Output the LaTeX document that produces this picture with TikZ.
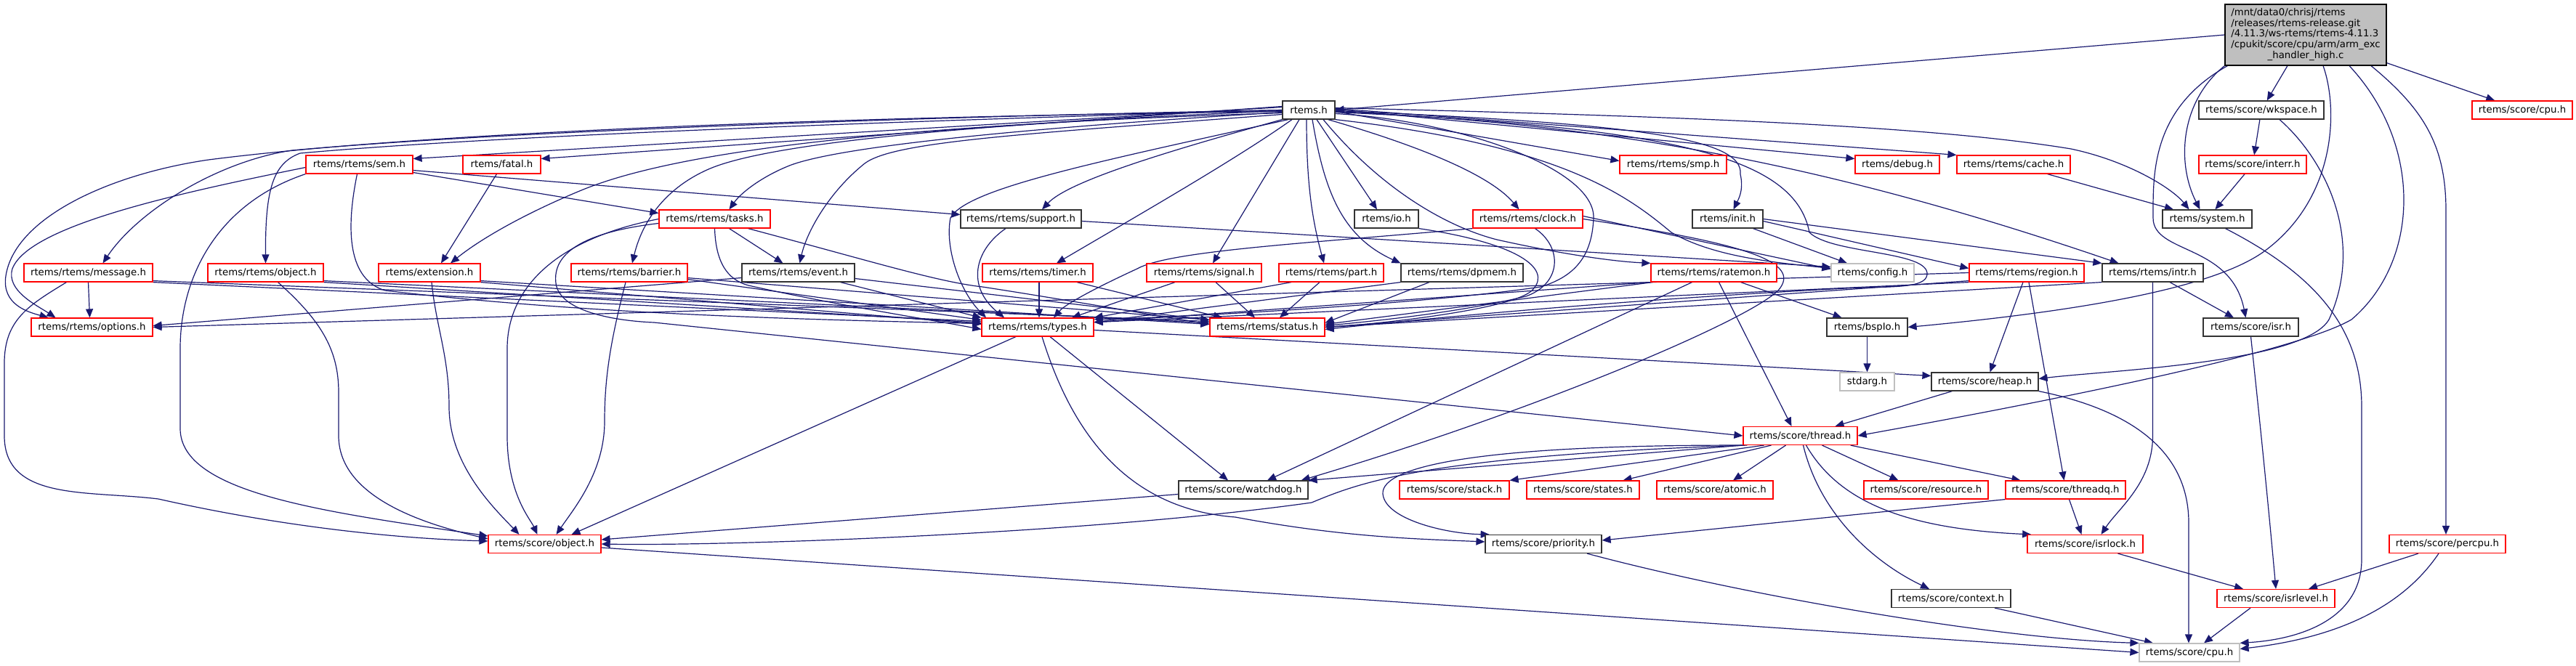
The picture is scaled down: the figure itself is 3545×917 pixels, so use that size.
\documentclass[tikz,border=0pt]{standalone}
\usepackage{fontspec}
\setmainfont{DejaVu Sans}
\usetikzlibrary{arrows.meta,backgrounds}
\definecolor{edgec}{HTML}{191970}
\definecolor{redb}{HTML}{FF0000}
\definecolor{grayb}{HTML}{BFBFBF}
\definecolor{mainf}{HTML}{BFBFBF}
\definecolor{darkb}{HTML}{333333}
\newcommand\nodefont{\fontsize{13.3pt}{14.8pt}\selectfont}
\tikzset{
 hbox/.style={draw, rectangle, minimum height=25pt, inner sep=0pt, fill=white, line width=1.2pt, font=\nodefont, text=black},
 rbox/.style={hbox, draw=redb},
 kbox/.style={hbox, draw=darkb},
 gbox/.style={hbox, draw=grayb},
 dep/.style={color=edgec, line width=1.2pt, -{Triangle[length=12pt,width=10pt]}},
}
\begin{document}
\begin{tikzpicture}[x=1pt,y=-1pt]
\useasboundingbox (0,0) rectangle (3545,917);
% row 0
\node[kbox, draw=black, fill=mainf, minimum width=222pt, minimum height=84pt] (main) at (3173,48) {\begin{tabular}{@{}l@{}}/mnt/data0/chrisj/rtems\\/releases/rtems-release.git\\/4.11.3/ws-rtems/rtems-4.11.3\\/cpukit/score/cpu/arm/arm\_exc\\\multicolumn{1}{@{}c@{}}{\_handler\_high.c}\end{tabular}};
% row 1
\node[kbox, minimum width=72pt] (rtems) at (1801,151.5) {rtems.h};
\node[kbox, minimum width=172pt] (wkspace) at (3112,151.5) {rtems/score/wkspace.h};
\node[rbox, minimum width=138pt] (scpu) at (3471,151.5) {rtems/score/cpu.h};
% row 2
\node[rbox, minimum width=147pt] (sem) at (494.5,226.5) {rtems/rtems/sem.h};
\node[rbox, minimum width=107pt] (fatal) at (690.5,226.5) {rtems/fatal.h};
\node[rbox, minimum width=147pt] (smp) at (2302.5,226.5) {rtems/rtems/smp.h};
\node[rbox, minimum width=116pt] (debug) at (2611,226.5) {rtems/debug.h};
\node[rbox, minimum width=156pt] (cache) at (2771,226.5) {rtems/rtems/cache.h};
\node[rbox, minimum width=148pt] (interr) at (3100,226.5) {rtems/score/interr.h};
% row 3
\node[rbox, minimum width=153pt] (tasks) at (983.5,301.5) {rtems/rtems/tasks.h};
\node[kbox, minimum width=166pt] (support) at (1405,301.5) {rtems/rtems/support.h};
\node[kbox, minimum width=88pt] (io) at (1908,301.5) {rtems/io.h};
\node[rbox, minimum width=151pt] (clock) at (2102.5,301.5) {rtems/rtems/clock.h};
\node[kbox, minimum width=97pt] (init) at (2377.5,301.5) {rtems/init.h};
\node[kbox, minimum width=123pt] (system) at (3037.5,301.5) {rtems/system.h};
% row 4
\node[rbox, minimum width=177pt] (message) at (121.5,375.5) {rtems/rtems/message.h};
\node[rbox, minimum width=159pt] (robject) at (365.5,375.5) {rtems/rtems/object.h};
\node[rbox, minimum width=140pt] (extension) at (591,375.5) {rtems/extension.h};
\node[rbox, minimum width=160pt] (barrier) at (866,375.5) {rtems/rtems/barrier.h};
\node[kbox, minimum width=155pt] (event) at (1098.5,375.5) {rtems/rtems/event.h};
\node[rbox, minimum width=152pt] (timer) at (1428,375.5) {rtems/rtems/timer.h};
\node[rbox, minimum width=158pt] (signal) at (1657,375.5) {rtems/rtems/signal.h};
\node[rbox, minimum width=144pt] (part) at (1832,375.5) {rtems/rtems/part.h};
\node[kbox, minimum width=168pt] (dpmem) at (2012,375.5) {rtems/rtems/dpmem.h};
\node[rbox, minimum width=173pt] (ratemon) at (2358.5,375.5) {rtems/rtems/ratemon.h};
\node[gbox, minimum width=114pt] (config) at (2577,375.5) {rtems/config.h};
\node[rbox, minimum width=158pt] (region) at (2789,375.5) {rtems/rtems/region.h};
\node[kbox, minimum width=139pt] (intr) at (2962.5,375.5) {rtems/rtems/intr.h};
% row 5
\node[rbox, minimum width=167pt] (options) at (126.5,450.5) {rtems/rtems/options.h};
\node[rbox, minimum width=154pt] (types) at (1428,450.5) {rtems/rtems/types.h};
\node[rbox, minimum width=158pt] (status) at (1744,450.5) {rtems/rtems/status.h};
\node[kbox, minimum width=111pt] (bspio) at (2569.5,450.5) {rtems/bspIo.h};
\node[kbox, minimum width=131pt] (isr) at (3097.5,450.5) {rtems/score/isr.h};
% row 6
\node[gbox, minimum width=75pt] (stdarg) at (2569.5,525.5) {stdarg.h};
\node[kbox, minimum width=147pt] (heap) at (2731.5,525.5) {rtems/score/heap.h};
% row 7
\node[rbox, minimum width=157pt] (thread) at (2477.5,600) {rtems/score/thread.h};
% row 8
\node[kbox, minimum width=178pt] (watchdog) at (1711,674.5) {rtems/score/watchdog.h};
\node[rbox, minimum width=151pt] (stack) at (2001.5,674.5) {rtems/score/stack.h};
\node[rbox, minimum width=155pt] (states) at (2178.5,674.5) {rtems/score/states.h};
\node[rbox, minimum width=160pt] (atomic) at (2360,674.5) {rtems/score/atomic.h};
\node[rbox, minimum width=171pt] (resource) at (2650.5,674.5) {rtems/score/resource.h};
\node[rbox, minimum width=165pt] (threadq) at (2842.5,674.5) {rtems/score/threadq.h};
% row 9
\node[rbox, minimum width=155pt] (sobject) at (749.5,749) {rtems/score/object.h};
\node[kbox, minimum width=160pt] (priority) at (2124,749) {rtems/score/priority.h};
\node[rbox, minimum width=159pt] (isrlock) at (2869.5,749) {rtems/score/isrlock.h};
\node[rbox, minimum width=160pt] (percpu) at (3368,749) {rtems/score/percpu.h};
% row 10
\node[kbox, minimum width=164pt] (context) at (2685,824) {rtems/score/context.h};
\node[rbox, minimum width=162pt] (isrlevel) at (3132,824) {rtems/score/isrlevel.h};
% row 11
\node[gbox, minimum width=138pt] (cpu) at (3013,898.5) {rtems/score/cpu.h};

\begin{scope}[on background layer]
\fill[white] (0,0) rectangle (3545,917);
% main
\draw[dep] (main.west) -- (rtems.east);
\draw[dep] (main) -- (wkspace);
\draw[dep] (main) -- (scpu);
\draw[dep] (main.south west) .. controls (3000,140) and (2995,225) .. ([xshift=-10pt]system.north);
\draw[dep] ([xshift=4pt]main.south west) .. controls (2960,150) and (2963,240) .. (2963,300) .. controls (2963,350) and (3070,335) .. ([xshift=-7pt]isr.north);
\draw[dep] ([xshift=24pt]main.south) .. controls (3218,150) and (3215,270) .. (3120,343) .. controls (3060,390) and (2900,425) .. (bspio.east);
\draw[dep] ([xshift=60pt]main.south) .. controls (3335,200) and (3330,360) .. (3236,440) .. controls (3150,490) and (2750,565) .. (thread.east);
\draw[dep] ([xshift=90pt]main.south) .. controls (3335,150) and (3366,200) .. (3366,290) -- ([xshift=-2pt]percpu.north);
% wkspace, interr, cache, system
\draw[dep] (wkspace) -- (interr);
\draw[dep] ([xshift=25pt]wkspace.south) .. controls (3200,220) and (3255,330) .. (3205,440) .. controls (3170,500) and (2900,510) .. ([yshift=4pt]heap.east);
\draw[dep] (interr) -- (system);
\draw[dep] (cache) -- (system);
\draw[dep] ([xshift=25pt]system.south) .. controls (3170,370) and (3250,440) .. (3250,560) -- (3250,770) .. controls (3250,850) and (3170,880) .. (cpu.north east);
% isr, intr
\draw[dep] (isr.south) .. controls (3112,600) and (3122,700) .. (isrlevel.north);
\draw[dep] (intr) -- (isr);
\draw[dep] (intr.south) -- (2962.5,600) .. controls (2962.5,665) and (2915,700) .. ([xshift=22pt]isrlock.north);
\draw[dep] (intr.south west) -- (status.east);
% region
\draw[dep] ([xshift=-5pt]region.south) -- ([xshift=7pt]heap.north);
\draw[dep] ([xshift=3pt]region.south) -- ([xshift=-2pt]threadq.north);
\draw[dep] (region.west) -- (options.east);
\draw[dep] (region.south west) -- (types.5);
\draw[dep] ([yshift=2pt]region.south west) -- (status.east);
% heap
\draw[dep] ([xshift=-45pt]heap.south) -- ([xshift=48pt]thread.north);
\draw[dep] (heap.south east) .. controls (2960,570) and (3012,640) .. (3012,720) -- ([xshift=-1pt]cpu.north);
% types
\draw[dep] ([yshift=-4pt]types.east) -- ([yshift=8pt]heap.west);
\draw[dep] ([xshift=17pt]types.south) -- ([xshift=-21pt]watchdog.north);
\draw[dep] ([xshift=6pt]types.south) .. controls (1470,580) and (1540,700) .. (1700,712) .. controls (1850,740) and (1950,742) .. ([yshift=3pt]priority.west);
\draw[dep] ([xshift=-30pt]types.south) -- ([xshift=37pt]sobject.north);
\draw[dep] ([yshift=-6pt]watchdog.west) -- ([yshift=6pt]sobject.east);
% thread
\draw[dep] (thread.south west) -- (watchdog.north east);
\draw[dep] ([xshift=3pt]thread.south west) .. controls (1960,628) and (1870,665) .. (1805,692) .. controls (1500,735) and (1000,752) .. (sobject.east);
\draw[dep] ([xshift=6pt]thread.south west) .. controls (2050,612) and (1900,640) .. (1903,680) .. controls (1906,715) and (1990,735) .. (priority.170);
\draw[dep] ([xshift=-50pt]thread.south) -- (stack.north east);
\draw[dep] ([xshift=-40pt]thread.south) -- ([xshift=55pt]states.north);
\draw[dep] ([xshift=-20pt]thread.south) -- ([xshift=25pt]atomic.north);
\draw[dep] ([xshift=30pt]thread.south) -- ([xshift=-38pt]resource.north);
\draw[dep] ([xshift=-10pt]thread.south east) -- ([xshift=-62pt]threadq.north);
\draw[dep] ([xshift=8pt]thread.south) .. controls (2530,690) and (2620,728) .. (isrlock.170);
\draw[dep] ([xshift=4pt]thread.south) .. controls (2505,710) and (2580,775) .. ([xshift=-30pt]context.north);
% lower score
\draw[dep] (threadq.south west) -- ([yshift=5pt]priority.east);
\draw[dep] ([xshift=5pt]threadq.south) -- ([xshift=-5pt]isrlock.north);
\draw[dep] ([xshift=45pt]isrlock.south) -- ([xshift=-45pt]isrlevel.north);
\draw[dep] ([xshift=-40pt]percpu.south) -- ([xshift=45pt]isrlevel.north);
\draw[dep] ([xshift=-12pt]percpu.south) .. controls (3300,845) and (3200,880) .. ([yshift=5pt]cpu.east);
\draw[dep] ([xshift=-35pt]isrlevel.south) -- ([xshift=20pt]cpu.north);
\draw[dep] ([xshift=60pt]context.south) -- ([xshift=-50pt]cpu.north);
\draw[dep] ([xshift=60pt]priority.south) .. controls (2400,820) and (2750,880) .. (cpu.north west);
\draw[dep] ([yshift=-5pt]sobject.east) -- (cpu.west);
% ratemon
\draw[dep] ([xshift=-30pt]ratemon.south) -- ([xshift=33pt]watchdog.north);
\draw[dep] ([xshift=7pt]ratemon.south) -- ([xshift=-12pt]thread.north);
\draw[dep] ([xshift=37pt]ratemon.south) -- ([xshift=-35pt]bspio.north);
\draw[dep] (ratemon.south west) -- (types.5);
\draw[dep] ([xshift=3pt]ratemon.south west) -- ([yshift=4pt]status.east);
% clock
\draw[dep] (clock.east) .. controls (2400,335) and (2482,360) .. (2447,400) .. controls (2400,445) and (2100,570) .. ([xshift=-10pt]watchdog.north east);
\draw[dep] ([yshift=4pt]clock.east) -- ([yshift=5pt]config.west);
\draw[dep] (clock.south west) .. controls (1800,335) and (1610,345) .. (1565,370) .. controls (1500,400) and (1465,420) .. ([xshift=22pt]types.north);
\draw[dep] ([xshift=10pt]clock.south) .. controls (2150,340) and (2150,390) .. (2100,408) .. controls (2000,432) and (1880,443) .. ([yshift=2pt]status.east);
% io, dpmem, part, signal, timer, support
\draw[dep] (io.south east) .. controls (2090,335) and (2135,370) .. (2110,398) .. controls (2090,425) and (1900,446) .. (status.east);
\draw[dep] (dpmem.south west) -- (types.5);
\draw[dep] ([xshift=-45pt]dpmem.south) -- ([yshift=6pt]status.east);
\draw[dep] ([xshift=-55pt]part.south) -- (types.north east);
\draw[dep] ([xshift=-16pt]part.south) -- ([xshift=17pt]status.north);
\draw[dep] ([xshift=-40pt]signal.south) -- ([xshift=47pt]types.north);
\draw[dep] ([xshift=16pt]signal.south) -- ([xshift=-17pt]status.north);
\draw[dep] ([xshift=2pt]timer.south) -- ([xshift=2pt]types.north);
\draw[dep] ([xshift=54pt]timer.south) -- ([xshift=-62pt]status.north);
\draw[dep] ([xshift=-21pt]support.south) .. controls (1340,345) and (1330,395) .. ([xshift=-46pt]types.north);
\draw[dep] ([yshift=-3pt]support.east) -- ([yshift=8pt]config.west);
% rtems.h
\draw[dep] ([yshift=4pt]rtems.west) -- ([yshift=8pt]sem.east);
\draw[dep] ([yshift=5pt]rtems.west) -- ([yshift=8pt]fatal.east);
\draw[dep] (rtems.west) .. controls (1300,160) and (700,180) .. (402,207) .. controls (300,222) and (190,290) .. ([xshift=20pt]message.north);
\draw[dep] (rtems.west) .. controls (1300,165) and (700,185) .. (413,211) .. controls (375,225) and (365,262) .. (robject.north);
\draw[dep] ([yshift=-2pt]rtems.west) .. controls (1200,160) and (600,180) .. (287,220) .. controls (150,240) and (20,300) .. (8,380) .. controls (2,420) and (40,430) .. ([xshift=-60pt]options.north);
\draw[dep] ([yshift=-4pt]rtems.west) .. controls (1300,170) and (950,200) .. (800,262) .. controls (720,295) and (660,330) .. ([xshift=29pt]extension.north);
\draw[dep] ([yshift=-1pt]rtems.west) .. controls (1300,172) and (1050,200) .. (975,233) .. controls (920,257) and (885,300) .. ([xshift=4pt]barrier.north);
\draw[dep] ([yshift=-3pt]rtems.west) .. controls (1350,180) and (1150,205) .. (1089,227) .. controls (1050,242) and (1020,265) .. ([xshift=20pt]tasks.north);
\draw[dep] ([yshift=-6pt]rtems.west) .. controls (1400,185) and (1230,195) .. (1190,225) .. controls (1140,265) and (1110,320) .. ([xshift=2pt]event.north);
\draw[dep] (rtems.south west) .. controls (1600,210) and (1470,250) .. ([xshift=29pt]support.north);
\draw[dep] ([xshift=-28pt]rtems.south) .. controls (1500,225) and (1330,260) .. (1308,300) .. controls (1300,340) and (1320,400) .. ([xshift=-71pt]types.north);
\draw[dep] ([xshift=-23pt]rtems.south) .. controls (1700,220) and (1560,300) .. ([xshift=26pt]timer.north);
\draw[dep] ([xshift=-13pt]rtems.south) -- ([xshift=12pt]signal.north);
\draw[dep] ([xshift=-3pt]rtems.south) .. controls (1798,250) and (1805,300) .. ([xshift=-10pt]part.north);
\draw[dep] ([xshift=5pt]rtems.south) .. controls (1822,260) and (1845,325) .. (dpmem.north west);
\draw[dep] ([xshift=11pt]rtems.south) -- ([xshift=-13pt]io.north);
\draw[dep] ([xshift=20pt]rtems.south) .. controls (1900,260) and (1990,312) .. (2060,330) .. controls (2150,350) and (2220,360) .. (ratemon.north west);
\draw[dep] ([xshift=-10pt]rtems.south east) .. controls (1950,200) and (2050,240) .. ([xshift=-12pt]clock.north);
\draw[dep] ([yshift=-2pt]rtems.east) -- ([yshift=5pt]smp.west);
\draw[dep] ([yshift=1pt]rtems.east) -- ([yshift=8pt]debug.west);
\draw[dep] ([yshift=2pt]rtems.east) -- (cache.north west);
\draw[dep] ([yshift=3pt]rtems.east) .. controls (2300,160) and (2650,172) .. (2850,205) .. controls (2930,222) and (2990,260) .. ([xshift=-25pt]system.north);
\draw[dep] ([yshift=-1pt]rtems.east) .. controls (2250,170) and (2400,190) .. (2395,240) .. controls (2400,262) and (2392,275) .. ([xshift=8pt]init.north);
\draw[dep] (rtems.south east) .. controls (2150,200) and (2240,270) .. (2300,320) .. controls (2360,355) and (2450,362) .. ([yshift=6pt]config.west);
\draw[dep] ([yshift=-2pt]rtems.east) .. controls (2200,170) and (2500,220) .. ([xshift=-47pt]intr.north);
\draw[dep] ([yshift=-3pt]rtems.east) .. controls (2300,175) and (2470,215) .. (2490,320) .. controls (2520,350) and (2655,345) .. (2652,378) .. controls (2650,398) and (2600,394) .. (2540,397) .. controls (2200,415) and (1950,440) .. ([yshift=-3pt]status.east);
\draw[dep] ([yshift=-5pt]rtems.east) .. controls (2000,165) and (2195,230) .. (2193,300) .. controls (2191,350) and (2170,380) .. (2120,395) .. controls (1950,420) and (1600,438) .. (types.8);
% sem
\draw[dep] ([yshift=-8pt]sem.east) -- ([yshift=6pt]support.west);
\draw[dep] ([yshift=-11pt]sem.east) -- ([yshift=8pt]tasks.west);
\draw[dep] ([yshift=-4pt]sem.west) .. controls (250,265) and (40,310) .. (17,370) .. controls (8,400) and (50,420) .. ([xshift=-50pt]options.north);
\draw[dep] (sem.south west) .. controls (300,280) and (248,380) .. (248,480) -- (248,590) .. controls (248,680) and (450,705) .. ([yshift=11pt]sobject.west);
\draw[dep] ([xshift=-3pt]sem.south) .. controls (475,320) and (480,385) .. (530,400) .. controls (800,432) and (1100,440) .. ([yshift=5pt]types.west);
% fatal
\draw[dep] ([xshift=-7pt]fatal.south) -- ([xshift=16pt]extension.north);
% message
\draw[dep] (message.south) -- ([xshift=-3pt]options.north);
\draw[dep] ([xshift=-30pt]message.south) .. controls (40,420) and (6,440) .. (6,500) -- (6,600) .. controls (6,690) and (120,675) .. (218,687) .. controls (400,728) and (560,742) .. ([yshift=4pt]sobject.west);
\draw[dep] (message.south east) -- ([yshift=8pt]types.west);
\draw[dep] ([yshift=2pt]message.south east) -- ([yshift=8pt]status.west);
% robject
\draw[dep] (robject.south east) -- ([yshift=6pt]types.west);
\draw[dep] ([yshift=2pt]robject.south east) -- ([yshift=6pt]status.west);
\draw[dep] ([xshift=17pt]robject.south) .. controls (440,440) and (466,480) .. (466,540) -- (466,600) .. controls (466,690) and (600,725) .. ([yshift=7pt]sobject.west);
% extension
\draw[dep] (extension.south east) -- ([yshift=4pt]types.west);
\draw[dep] ([yshift=2pt]extension.south east) -- ([yshift=4pt]status.west);
\draw[dep] ([xshift=3pt]extension.south) .. controls (600,450) and (618,490) .. (618,560) .. controls (618,640) and (680,700) .. ([xshift=-35pt]sobject.north);
% barrier
\draw[dep] ([yshift=4pt]barrier.south east) -- ([yshift=10pt]types.west);
\draw[dep] ([yshift=6pt]barrier.south east) -- ([yshift=10pt]status.west);
\draw[dep] ([xshift=-5pt]barrier.south) .. controls (840,470) and (832,520) .. (832,580) .. controls (832,650) and (790,700) .. ([xshift=16pt]sobject.north);
% tasks
\draw[dep] ([xshift=20pt]tasks.south) -- ([xshift=-21pt]event.north);
\draw[dep] ([xshift=46pt]tasks.south) .. controls (1200,360) and (1290,388) .. (1352,395) .. controls (1450,410) and (1600,436) .. ([yshift=4pt]status.west);
\draw[dep] (tasks.south) .. controls (985,360) and (1000,385) .. (1030,393) .. controls (1150,420) and (1280,440) .. ([yshift=-3pt]types.west);
\draw[dep] (tasks.west) .. controls (760,330) and (698,400) .. (698,480) -- (698,600) .. controls (698,680) and (730,715) .. ([xshift=-10pt]sobject.north);
\draw[dep] ([yshift=-6pt]tasks.west) .. controls (800,320) and (760,350) .. (765,390) .. controls (770,430) and (850,442) .. (900,444) -- (thread.west);
% event
\draw[dep] ([xshift=-20pt]event.south east) -- (types.north west);
\draw[dep] ([yshift=-8pt]event.east) -- ([yshift=10pt]status.west);
\draw[dep] ([yshift=-7pt]event.west) -- ([yshift=2pt]options.east);
% init
\draw[dep] ([xshift=35pt]init.south) -- ([xshift=-35pt]config.north);
\draw[dep] (init.east) -- (intr.north west);
\draw[dep] ([yshift=-3pt]init.east) -- ([yshift=6pt]region.west);
% bspIo
\draw[dep] (bspio) -- (stdarg);
\end{scope}
\end{tikzpicture}
\end{document}
